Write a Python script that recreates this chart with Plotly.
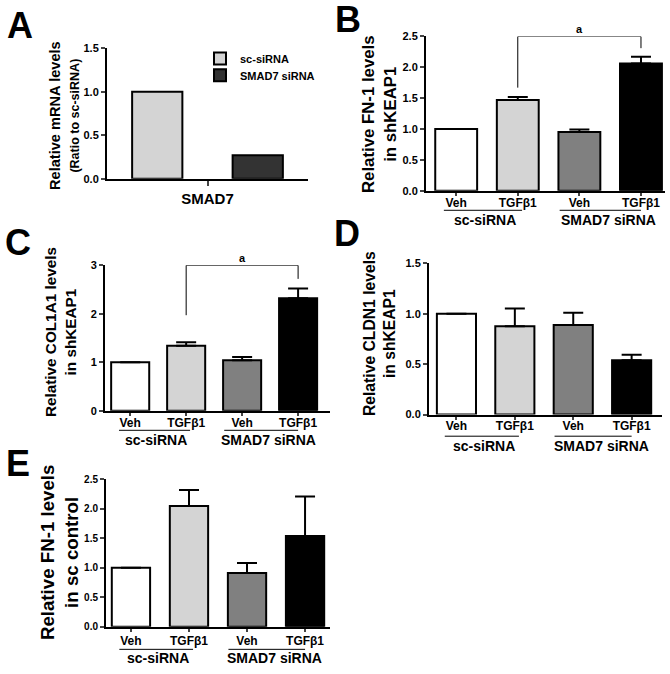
import plotly.graph_objects as go

# ---------------- data ----------------
a_categories = ["SMAD7"]
a_sc_sirna = [1.0]
a_smad7_sirna = [0.27]

treatments = ["Veh", "TGFβ1", "Veh", "TGFβ1"]
groups = ["sc-siRNA", "SMAD7 siRNA"]

b_values = [1.0, 1.47, 0.95, 2.06]
b_errors = [None, 0.05, 0.04, 0.11]

c_values = [1.0, 1.34, 1.04, 2.32]
c_errors = [None, 0.07, 0.07, 0.20]

d_values = [1.0, 0.875, 0.888, 0.538]
d_errors = [None, 0.176, 0.122, 0.055]

e_values = [1.0, 2.05, 0.91, 1.54]
e_errors = [None, 0.27, 0.17, 0.67]

W, H = 670, 674
FONT = "Liberation Sans, Arial, sans-serif"
bar_colors = ["#ffffff", "#d4d4d4", "#808080", "#000000"]


def px(x):
    return x / W


def py(y):
    return 1 - y / H


fig = go.Figure()

# ---------------- panel A ----------------
fig.add_trace(go.Bar(
    x=a_categories, y=a_sc_sirna, name="sc-siRNA", width=0.25, offset=-0.375,
    marker=dict(color="#d4d4d4", line=dict(color="black", width=2)),
    xaxis="x", yaxis="y", showlegend=True, legend="legend"))
fig.add_trace(go.Bar(
    x=a_categories, y=a_smad7_sirna, name="SMAD7 siRNA", width=0.25, offset=0.125,
    marker=dict(color="#333333", line=dict(color="black", width=2)),
    xaxis="x", yaxis="y", showlegend=True, legend="legend2"))

# ---------------- panels B-E ----------------
panels = [
    # key, values, errors, x-domain px, y-domain px (top, bottom), x range, ymax, dtick, fmt, width, label standoff
    ("2", b_values, b_errors, (426, 665), (31, 188), (-0.49, 3.39), 2.5, 0.5, ".1f", 0.68, -3),
    ("3", c_values, c_errors, (105, 330), (264, 412), (-0.45, 3.57), 3.0, 1, "d", 0.68, -3),
    ("4", d_values, d_errors, (429, 662), (262, 416), (-0.47, 3.52), 1.5, 0.5, ".1f", 0.67, -4),
    ("5", e_values, e_errors, (106, 330), (482, 632), (-0.43, 3.43), 2.5, 0.5, ".1f", 0.66, -1),
]

xpos = list(range(len(treatments)))

layout_axes = {}
ymax_of = {}
for key, vals, errs, xd, yd, xr, ymax, dt, fmt, bw, stand in panels:
    ymax_of[key] = ymax
    fig.add_trace(go.Bar(
        x=xpos, y=vals, width=bw,
        marker=dict(color=bar_colors, line=dict(color="black", width=2)),
        error_y=dict(type="data", array=[e if e is not None else float("nan") for e in errs],
                     symmetric=False, arrayminus=[0] * len(errs),
                     color="black", thickness=2, width=10),
        xaxis="x" + key, yaxis="y" + key, showlegend=False))
    tick_size = 10 if key == "5" else 11
    layout_axes["xaxis" + key] = dict(
        domain=[px(xd[0]), px(xd[1])], anchor="y" + key, range=list(xr),
        tickvals=xpos, ticktext=treatments, ticks="outside", ticklen=3, tickwidth=1.5,
        ticklabelstandoff=stand,
        showline=True, linecolor="black", linewidth=2, showgrid=False, zeroline=False,
        tickfont=dict(family=FONT, size=12, color="black", weight="bold"), fixedrange=True)
    layout_axes["yaxis" + key] = dict(
        domain=[py(yd[1]), py(yd[0])], anchor="x" + key, range=[0, ymax],
        dtick=dt, tick0=0, tickformat=fmt, ticks="outside", ticklen=4, tickwidth=2,
        showline=True, linecolor="black", linewidth=2, showgrid=False, zeroline=False,
        tickfont=dict(family=FONT, size=tick_size, color="black", weight="bold"))

# significance brackets (panels B and C)
brackets = [
    ("2", [1, 1, 3, 3], [1.67, 2.5, 2.5, 2.31], 2.62),
    ("3", [1, 1, 3, 3], [1.97, 3.0, 3.0, 2.72], 3.15),
]
for key, bx, by, ay in brackets:
    fig.add_trace(go.Scatter(x=bx, y=by, mode="lines", line=dict(color="black", width=1),
                             cliponaxis=False, xaxis="x" + key, yaxis="y" + key,
                             showlegend=False, hoverinfo="skip"))
    fig.add_annotation(x=2, y=ay / ymax_of[key], xref="x" + key, yref="y" + key + " domain",
                       text="a", showarrow=False, yanchor="middle",
                       font=dict(family=FONT, size=11, color="black", weight="bold"))

# group labels and underlines
group_geom = {
    # key: (line y px, label y px)
    "2": (208, 218),
    "3": (432, 442),
    "4": (438, 448),
    "5": (655, 664),
}
group_spans = [(-0.2, 1.07), (1.68, 3.0)]
group_centers = [0.47, 2.48]
for key, (ly, ty) in group_geom.items():
    for gi, g in enumerate(groups):
        x0, x1 = group_spans[gi]
        fig.add_shape(type="line", xref="x" + key, yref="paper", x0=x0, x1=x1,
                      y0=py(ly), y1=py(ly), line=dict(color="black", width=1))
        fig.add_annotation(x=group_centers[gi], y=py(ty), xref="x" + key, yref="paper",
                           text=g, showarrow=False, yanchor="middle",
                           font=dict(family=FONT, size=14, color="black", weight="bold"))

# y-axis titles
ytitles = [
    (64, 112, "Relative mRNA levels<br><span style='font-size:12.5px'>(Ratio to sc-siRNA)</span>", 14.6),
    (379, 110, "Relative FN-1 levels<br>in shKEAP1", 16.8),
    (60, 332, "Relative COL1A1 levels<br>in shKEAP1", 15.3),
    (379, 334, "Relative CLDN1 levels<br>in shKEAP1", 15.7),
    (59, 556, "Relative FN-1 levels<br>in sc control", 18.7),
]
for x, y, t, s in ytitles:
    fig.add_annotation(x=px(x), y=py(y), xref="paper", yref="paper", text=t, textangle=-90,
                       showarrow=False, xanchor="center", yanchor="middle",
                       font=dict(family=FONT, size=s, color="black", weight="bold"))

# panel letters
letters = [("A", 20, 20), ("B", 348, 14), ("C", 18, 241), ("D", 347, 232), ("E", 18, 466)]
for t, x, y in letters:
    fig.add_annotation(x=px(x), y=py(y), xref="paper", yref="paper", text=t, showarrow=False,
                       xanchor="center", yanchor="middle",
                       font=dict(family=FONT, size=36, color="black", weight="bold"))

legend_style = dict(xanchor="left", yanchor="middle",
                    font=dict(family=FONT, size=11, color="black", weight="bold"),
                    bgcolor="rgba(0,0,0,0)", itemwidth=30)

fig.update_layout(
    width=W, height=H, margin=dict(l=0, r=0, t=0, b=0),
    paper_bgcolor="white", plot_bgcolor="white",
    barmode="overlay",
    font=dict(family=FONT, color="black"),
    showlegend=True,
    legend=dict(x=px(200), y=py(53.5), **legend_style),
    legend2=dict(x=px(200), y=py(70.5), **legend_style),
    xaxis=dict(domain=[px(107), px(308)], anchor="y", range=[-0.5, 0.5],
               ticks="outside", ticklen=5, tickwidth=2, showline=True, linecolor="black",
               linewidth=2, showgrid=False, zeroline=False,
               tickfont=dict(family=FONT, size=15, color="black", weight="bold")),
    yaxis=dict(domain=[py(176), py(43)], anchor="x", range=[0, 1.5], dtick=0.5, tickformat=".1f",
               ticks="outside", ticklen=4, tickwidth=2, showline=True, linecolor="black",
               linewidth=2, showgrid=False, zeroline=False,
               tickfont=dict(family=FONT, size=11, color="black", weight="bold")),
    **layout_axes,
)

fig.write_html("out.html", post_script="document.body.style.margin='0';",
               config={"displayModeBar": False})
